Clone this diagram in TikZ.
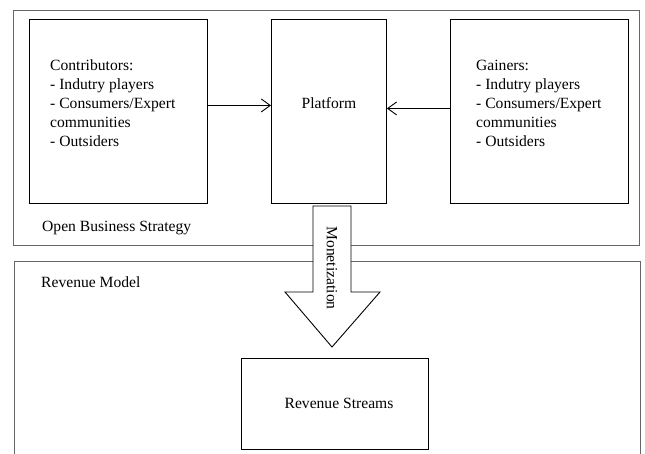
\documentclass[tikz,border=0pt]{standalone}
\usepackage{fontspec}
\setmainfont{Liberation Serif}
\usetikzlibrary{arrows.meta}
\begin{document}
\begin{tikzpicture}[x=1pt,y=-1pt,
  font=\fontsize{15.6}{19}\selectfont,
  outer/.style={draw=black!60, line width=0.9pt},
  box/.style={draw=black, line width=0.9pt, rectangle, inner sep=0pt, anchor=north west},
  txt/.style={inner sep=0pt, align=left},
  conn/.style={line width=0.9pt, -{Straight Barb[length=9pt,width=13pt,line width=0.9pt]}},
  bigarrow/.style={draw=black, line width=0.9pt, fill=white, line join=miter}]
\useasboundingbox (0,0) rectangle (645,453);
% containers
\draw[outer] (13,10) rectangle (639,245);
\draw[outer] (14,456) -- (14,261) -- (640,261) -- (640,456);
\node[txt, anchor=west] (obs) at (42,228) {Open Business Strategy};
\node[txt, anchor=west] (rm) at (41,282) {Revenue Model};
% boxes
\node[box, minimum width=178pt, minimum height=184pt] (con) at (29,19) {};
\node[box, minimum width=115pt, minimum height=184pt] (plat) at (271,19) {};
\node[box, minimum width=178pt, minimum height=184pt] (gain) at (450,19) {};
\node[box, minimum width=187pt, minimum height=91pt] (rs) at (241,358) {};
\node[txt, anchor=west] (contxt) at (50,103) {Contributors:\\- Indutry players\\- Consumers/Expert\\communities\\- Outsiders};
\node[txt, anchor=west] (gaintxt) at (476,103) {Gainers:\\- Indutry players\\- Consumers/Expert\\communities\\- Outsiders};
\node[txt] (plattxt) at (329,103) {Platform};
\node[txt] (rstxt) at (339,403) {Revenue Streams};
% connectors
\draw[conn] ([yshift=6pt]con.east) -- ([yshift=6pt]plat.west);
\draw[conn] ([yshift=3pt]gain.west) -- ([yshift=3pt]plat.east);
% big arrow
\draw[bigarrow] (313,206) -- (351,206) -- (351,292) -- (380,292) -- (332,347) -- (285,292) -- (313,292) -- cycle;
\node[txt, rotate=-90] (mon) at (332,268) {Monetization};
\end{tikzpicture}
\end{document}
